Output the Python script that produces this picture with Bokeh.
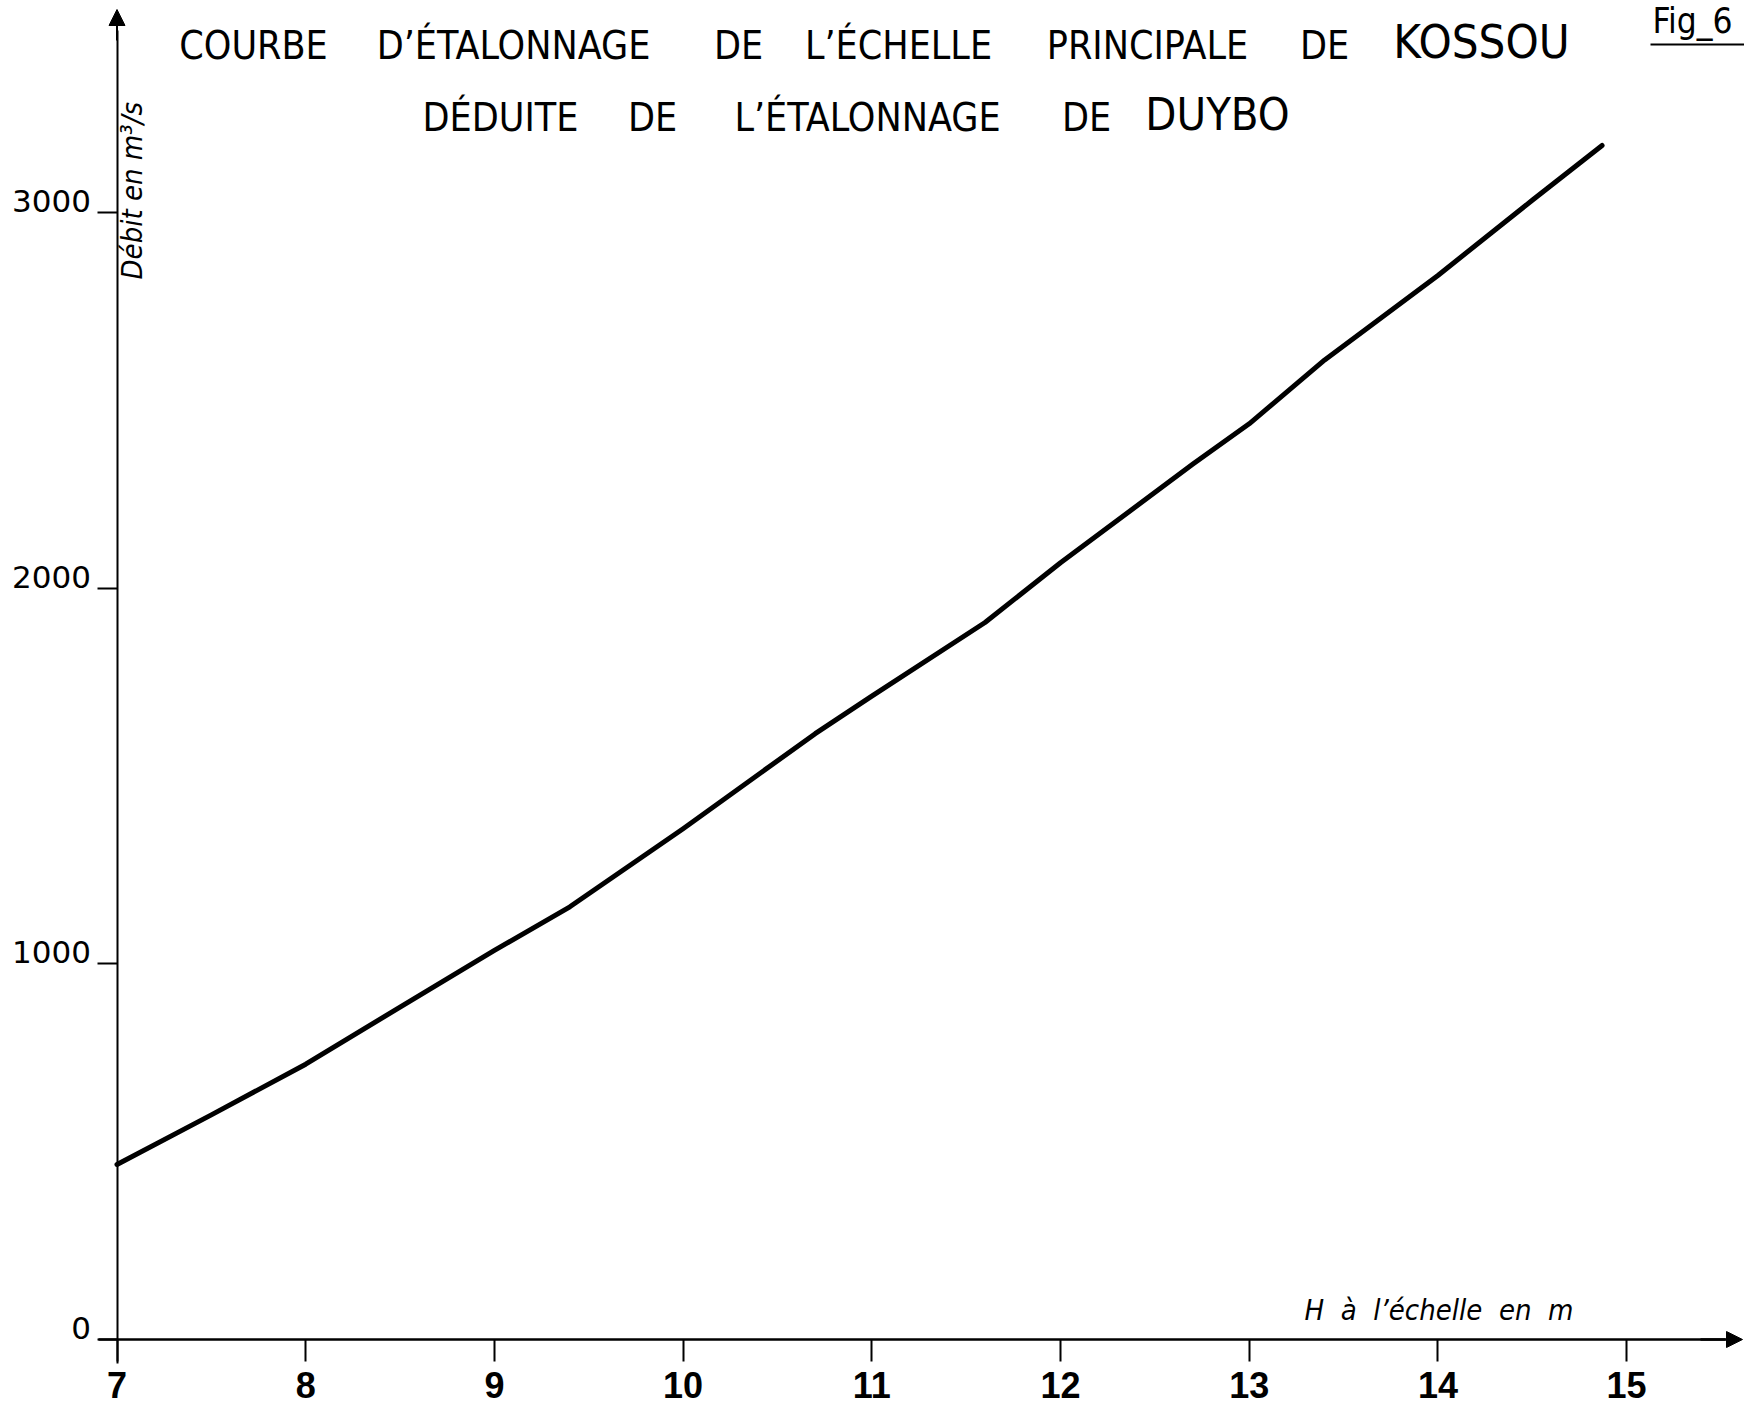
import math
from bokeh.plotting import figure
from bokeh.models import (LinearAxis, FixedTicker, Label, Arrow, NormalHead,
                          Range1d, ColumnDataSource, CustomJSTickFormatter)
from bokeh.core.properties import value
from bokeh.embed import file_html
from bokeh.resources import INLINE

# ---------------- data ----------------
stage_m = [7.0, 7.5, 8.0, 8.5, 9.0, 9.4, 10.0, 10.7, 11.0, 11.6, 12.0, 12.7,
           13.0, 13.4, 14.0, 14.5, 14.87]
discharge_m3s = [466, 598, 733, 885, 1036, 1152, 1360, 1613, 1713, 1909, 2068,
                 2330, 2438, 2608, 2833, 3033, 3179]
x_ticks = [7, 8, 9, 10, 11, 12, 13, 14, 15]
x_tick_labels = ["7", "8", "9", "10", "11", "12", "13", "14", "15"]
y_ticks = [0, 1000, 2000, 3000]
y_tick_labels = ["0", "1000", "2000", "3000"]

title_line1_words = ["COURBE", "D’ÉTALONNAGE", "DE", "L’ÉCHELLE", "PRINCIPALE", "DE"]
title_line1_big = "KOSSOU"
title_line2_words = ["DÉDUITE", "DE", "L’ÉTALONNAGE", "DE"]
title_line2_big = "DUYBO"
y_title = "Débit en m³/s"
x_title = "H\u00a0\u00a0à\u00a0\u00a0l’échelle\u00a0\u00a0en\u00a0\u00a0m"
fig_tag = "Fig_6"

# ---------------- layout (pixels on the page) ----------------
W, HGT = 1744, 1408
PX_PER_X = 188.7
PX_PER_Y = 0.3756
X7_PX = 116.5      # page px of x = 7
Y0_PX = 1339       # page px of y = 0
TEXT_SHIFT = 0.37   # em drop of the rendered alphabetic baseline (text glyph)
LABEL_SHIFT = 0.42  # same, for Label annotations

x_start = 7 - X7_PX / PX_PER_X
x_end = x_start + W / PX_PER_X
y_end = Y0_PX / PX_PER_Y
y_start = y_end - HGT / PX_PER_Y


def dx(px):  # page px -> data x
    return x_start + px / PX_PER_X


def dy(py):  # page px -> data y
    return y_end - py / PX_PER_Y


line1_centers = [253, 513, 738, 898, 1147, 1324]
line1_big_center = 1481
line2_centers = [500, 652, 867, 1086]
line2_big_center = 1217
LINE1_BASE, LINE2_BASE = 61, 133

TITLE_FONT = "DejaVu Sans Condensed"
TICK_FONT = "Liberation Sans"


def label(text, px, py, size, align="left", style="normal", angle=0.0):
    s = int(size)
    if angle == 0.0:
        kw = dict(x=dx(px), y=dy(py), y_offset=LABEL_SHIFT * s)
    else:
        kw = dict(x=dx(px - LABEL_SHIFT * s), y=dy(py))
    return Label(text=text, text_align=align, text_baseline="alphabetic",
                 text_font=TITLE_FONT, text_font_size=f"{s}px",
                 text_font_style=style, text_color="black", angle=angle, **kw)


p = figure(width=W, height=HGT,
           x_range=Range1d(x_start, x_end), y_range=Range1d(y_start, y_end),
           output_backend="svg", toolbar_location=None,
           x_axis_location=None, y_axis_location=None,
           min_border=0, background_fill_color="white",
           border_fill_color="white", outline_line_color=None)
p.grid.visible = False

blank = CustomJSTickFormatter(code="return ''")

# x axis at y = 0
xax = LinearAxis(fixed_location=0, ticker=FixedTicker(ticks=x_ticks),
                 bounds=(dx(98), dx(1725)),
                 axis_line_width=2.5, axis_line_color="black",
                 major_tick_line_width=2, major_tick_line_color="black",
                 major_tick_out=22, major_tick_in=0,
                 minor_tick_line_color=None, formatter=blank)
p.add_layout(xax, "below")

# y axis at x = 7
yax = LinearAxis(fixed_location=7, ticker=FixedTicker(ticks=y_ticks),
                 bounds=(dy(1363), dy(30)),
                 axis_line_width=2, axis_line_color="black",
                 major_tick_line_width=2, major_tick_line_color="black",
                 major_tick_out=20, major_tick_in=0,
                 minor_tick_line_color=None, formatter=blank)
p.add_layout(yax, "left")

# x tick labels below the ticks
xsrc = ColumnDataSource(dict(x=x_ticks, y=[0] * len(x_ticks), t=x_tick_labels))
p.text(x="x", y="y", text="t", source=xsrc,
       y_offset=(1398 - Y0_PX) - TEXT_SHIFT * 36,
       text_align="center", text_baseline="alphabetic",
       text_font=value(TICK_FONT), text_font_style="bold",
       text_font_size="36px", text_color="black")

# y tick labels sit on the tick line
ysrc = ColumnDataSource(dict(x=[7] * len(y_ticks), y=y_ticks, t=y_tick_labels))
p.text(x="x", y="y", text="t", source=ysrc, x_offset=-26,
       y_offset=-TEXT_SHIFT * 31,
       text_align="right", text_baseline="alphabetic",
       text_font=value("DejaVu Sans"), text_font_size="31px", text_color="black")

# arrow heads
p.add_layout(Arrow(end=NormalHead(size=16, fill_color="black", line_color="black"),
                   x_start=7, y_start=dy(40), x_end=7, y_end=dy(9),
                   line_width=2, line_color="black"))
p.add_layout(Arrow(end=NormalHead(size=16, fill_color="black", line_color="black"),
                   x_start=dx(1700), y_start=0, x_end=dx(1742), y_end=0,
                   line_width=2.5, line_color="black"))

# rating curve
p.line(stage_m, discharge_m3s, line_width=5, line_color="black",
       line_join="round", line_cap="round")

# titles
for w, cx in zip(title_line1_words, line1_centers):
    p.add_layout(label(w, cx, LINE1_BASE, 39, align="center"))
p.add_layout(label(title_line1_big, line1_big_center, LINE1_BASE, 47, align="center"))
for w, cx in zip(title_line2_words, line2_centers):
    p.add_layout(label(w, cx, LINE2_BASE, 39, align="center"))
p.add_layout(label(title_line2_big, line2_big_center, LINE2_BASE, 45, align="center"))

# figure tag with underline
p.add_layout(label(fig_tag, 1652, 35, 35))
p.add_layout(Arrow(start=None, end=None, x_start=dx(1650), y_start=dy(44),
                   x_end=dx(1744), y_end=dy(44), line_width=2, line_color="black"))

# axis titles
p.add_layout(label(y_title, 144, 279, 29, style="italic", angle=math.pi / 2))
p.add_layout(label(x_title, 1304, 1322, 29, style="italic"))

open("out.html", "w").write(file_html(p, INLINE))
